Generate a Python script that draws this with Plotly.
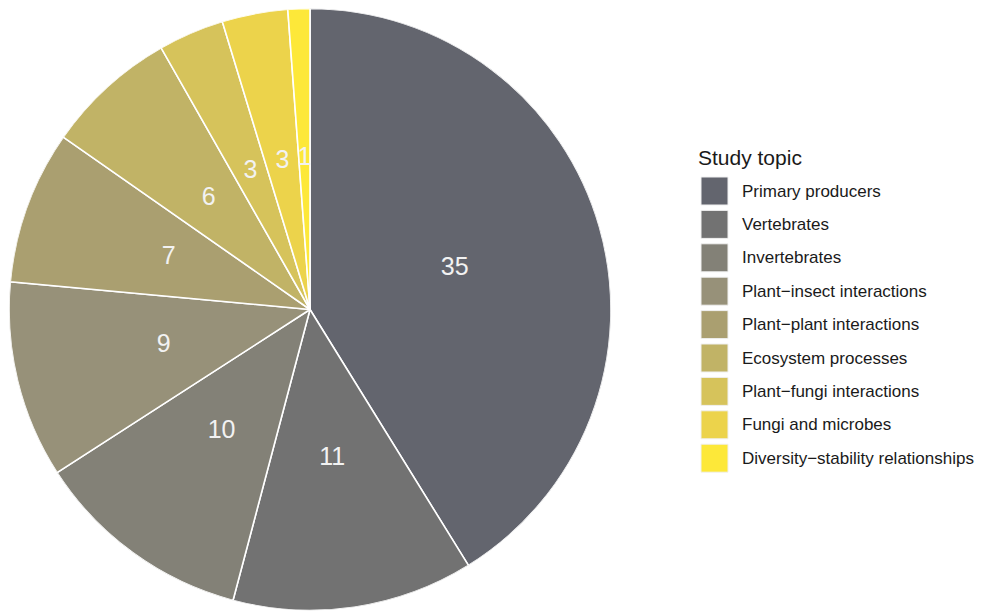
import numpy as np
import plotly.graph_objects as go

categories = ["Primary producers", "Vertebrates", "Invertebrates",
              "Plant\u2212insect interactions", "Plant\u2212plant interactions",
              "Ecosystem processes", "Plant\u2212fungi interactions",
              "Fungi and microbes", "Diversity\u2212stability relationships"]
counts = [35, 11, 10, 9, 7, 6, 3, 3, 1]
colors = ["#63656e", "#727272", "#838177", "#979179", "#aa9f70",
          "#c1b366", "#d6c35b", "#ecd34b", "#fde839"]
legend_title = "Study topic"

W, H = 985, 614
total = sum(counts)
widths = [c / total * 360 for c in counts]
cum = np.cumsum(counts)
mids = [(cum[i] - counts[i] / 2) / total * 360 for i in range(len(counts))]

fig = go.Figure()
fig.add_trace(go.Barpolar(
    r=[1] * len(counts), theta=mids, width=widths,
    marker=dict(color=colors, line=dict(color="white", width=1.6)),
    showlegend=False, hoverinfo="skip"))
fig.add_trace(go.Scatterpolar(
    r=[0.5] * len(counts), theta=mids, mode="text",
    text=[str(c) for c in counts],
    textfont=dict(size=25, color="#f2f2f2", family="Liberation Sans, Arial, sans-serif"),
    showlegend=False, hoverinfo="skip"))

cx, cy, rad = 310, 309.5, 301
fig.update_layout(
    width=W, height=H,
    margin=dict(l=0, r=0, t=0, b=0),
    paper_bgcolor="white", plot_bgcolor="white",
    font=dict(family="Liberation Sans, Arial, sans-serif", color="#1a1a1a"),
    polar=dict(
        domain=dict(x=[(cx - rad) / W, (cx + rad) / W],
                    y=[1 - (cy + rad) / H, 1 - (cy - rad) / H]),
        bgcolor="rgba(0,0,0,0)",
        hole=0,
        radialaxis=dict(range=[0, 1], visible=False),
        angularaxis=dict(direction="clockwise", rotation=90, showticklabels=False,
                         showgrid=False, showline=False, ticks=""),
    ),
)

# manual legend
key_x0, key_w, key_h, top0, pitch = 701, 27, 28, 177, 33.4
shapes = []
annots = [dict(x=696 / W, y=1 - 157 / H, xref="paper", yref="paper",
               text=legend_title, showarrow=False, xanchor="left", yanchor="middle",
               font=dict(size=21, color="#1a1a1a"))]
for i, (cat, col) in enumerate(zip(categories, colors)):
    t = top0 + i * pitch
    shapes.append(dict(type="rect", xref="paper", yref="paper",
                       x0=key_x0 / W, x1=(key_x0 + key_w) / W,
                       y0=1 - (t + key_h) / H, y1=1 - t / H,
                       fillcolor=col, line=dict(color="#f0f0f0", width=1)))
    annots.append(dict(x=740 / W, y=1 - (t + key_h / 2) / H, xref="paper", yref="paper",
                       text=cat, showarrow=False, xanchor="left", yanchor="middle",
                       font=dict(size=17, color="#1a1a1a")))
fig.update_layout(shapes=shapes, annotations=annots)

fig.write_html("out.html")
